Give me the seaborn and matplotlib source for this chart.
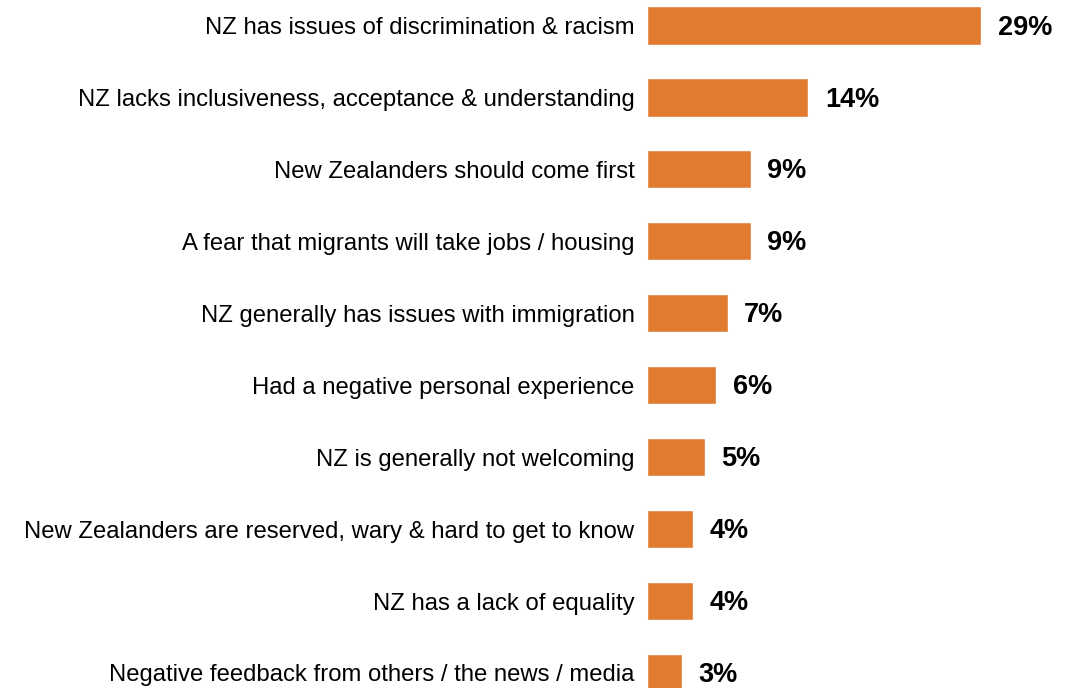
import matplotlib
matplotlib.use("Agg")
import matplotlib.pyplot as plt
import seaborn as sns
import pandas as pd

categories = [
    "NZ has issues of discrimination & racism",
    "NZ lacks inclusiveness, acceptance & understanding",
    "New Zealanders should come first",
    "A fear that migrants will take jobs / housing",
    "NZ generally has issues with immigration",
    "Had a negative personal experience",
    "NZ is generally not welcoming",
    "New Zealanders are reserved, wary & hard to get to know",
    "NZ has a lack of equality",
    "Negative feedback from others / the news / media",
]
values = [29, 14, 9, 9, 7, 6, 5, 4, 4, 3]

sns.set_theme(style="white")
plt.rcParams["font.family"] = ["Liberation Sans", "DejaVu Sans"]

df = pd.DataFrame({"reason": categories, "pct": values})

fig = plt.figure(figsize=(10.76, 6.88), dpi=100)
ax = fig.add_axes([647 / 1076, 0, 1 - 647 / 1076, 1])

sns.barplot(data=df, y="reason", x="pct", orient="h", color="#E07B2F",
            saturation=1, width=0.53, ax=ax)

ax.set_xlim(0, (1076 - 647) / 11.52)
ax.set_ylim(9 + 15 / 71.94, -25.5 / 71.94)
ax.set_xlabel("")
ax.set_ylabel("")
ax.set_xticks([])
ax.tick_params(axis="y", length=0, pad=9, labelsize=17.2, labelcolor="black")
for s in ax.spines.values():
    s.set_visible(False)

for i, v in enumerate(values):
    ax.annotate(f"{v}%", xy=(v, i), xytext=(12, -1.5), textcoords="offset points",
                ha="left", va="center", fontsize=19.5, fontweight="bold",
                color="black")

fig.savefig("out.png", dpi=100)
